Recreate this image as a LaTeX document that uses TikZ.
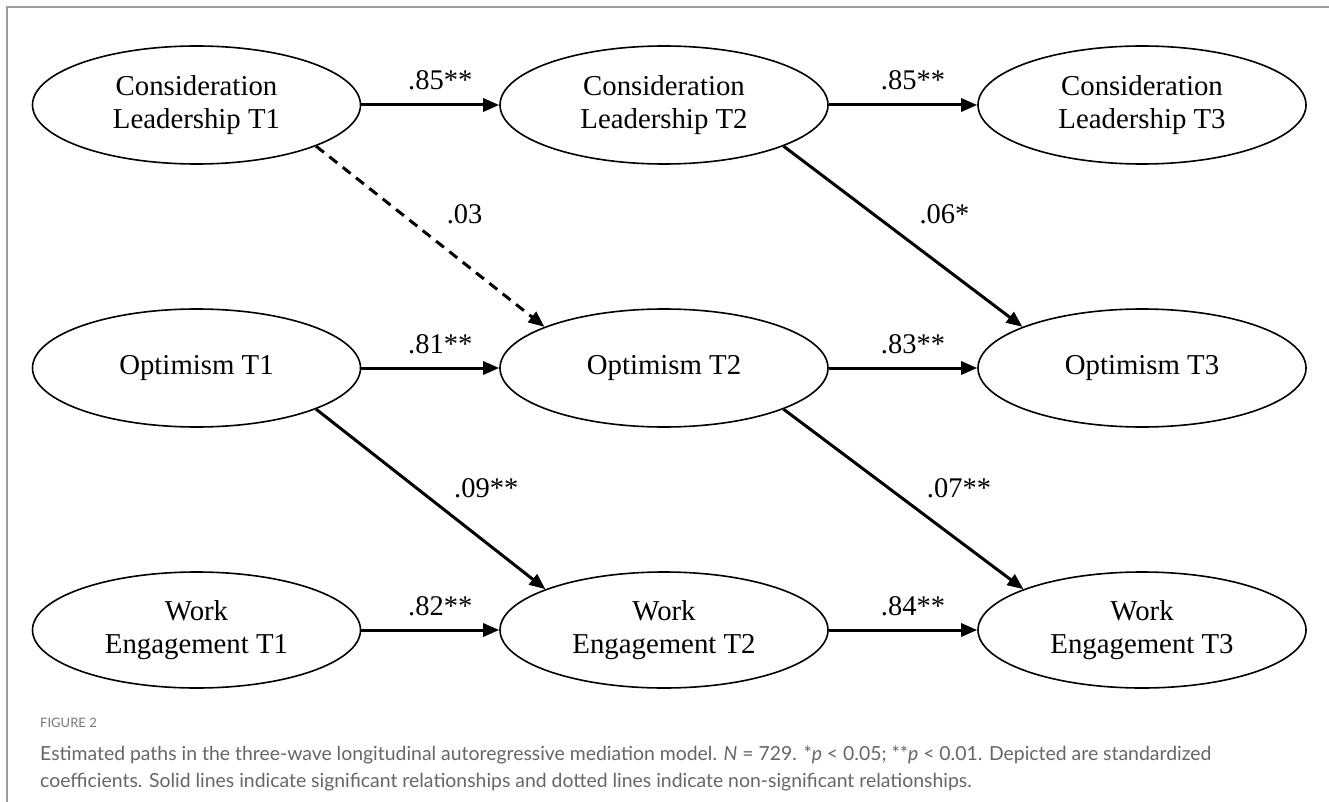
\documentclass[tikz,border=0pt]{standalone}
\usepackage{fontspec}
\setmainfont{Liberation Serif}
\newfontfamily\capfont{Lato}
\usetikzlibrary{arrows.meta,shapes.geometric}
\definecolor{framegray}{HTML}{9A9A9A}
\definecolor{capgray}{HTML}{666666}
\definecolor{figgray}{HTML}{777777}
\begin{document}
\begin{tikzpicture}[x=1pt,y=-1pt,
  latent/.style={draw, ellipse, line width=1.6pt, minimum width=328pt, minimum height=118pt,
    inner sep=0pt, align=center, font=\fontsize{28.8}{33}\selectfont},
  pathline/.style={line width=3pt, -{Triangle[length=16pt,width=13pt]}},
  coef/.style={font=\fontsize{28.5}{33}\selectfont, inner sep=0pt},
  hcoef/.style={coef, midway, anchor=base, yshift=15pt, xshift=10pt},
  ucoef/.style={coef, pos=0.5, anchor=south west, xshift=15pt, yshift=11pt},
  lcoef/.style={coef, pos=0.5, anchor=south west, xshift=22pt, yshift=0pt}
]
\useasboundingbox (0,0) rectangle (1329,802);
\fill[white] (0,0) rectangle (1329,802);
\draw[framegray, line width=1.5pt] (7,802) -- (7,7) -- (1329,7);

\node[latent] (cl1) at (196.5,105) {Consideration\\Leadership T1};
\node[latent] (cl2) at (664,105) {Consideration\\Leadership T2};
\node[latent] (cl3) at (1142,105) {Consideration\\Leadership T3};
\node[latent] (op1) at (196.5,368) {Optimism T1};
\node[latent] (op2) at (664,368) {Optimism T2};
\node[latent] (op3) at (1142,368) {Optimism T3};
\node[latent, minimum height=116pt] (we1) at (196.5,630) {Work\\Engagement T1};
\node[latent, minimum height=116pt] (we2) at (664,630) {Work\\Engagement T2};
\node[latent, minimum height=116pt] (we3) at (1142,630) {Work\\Engagement T3};

\draw[pathline] (cl1) -- node[hcoef] {.85**} (cl2);
\draw[pathline] (cl2) -- node[hcoef] {.85**} (cl3);
\draw[pathline] (op1) -- node[hcoef] {.81**} (op2);
\draw[pathline] (op2) -- node[hcoef] {.83**} (op3);
\draw[pathline] (we1) -- node[hcoef] {.82**} (we2);
\draw[pathline] (we2) -- node[hcoef] {.84**} (we3);

\draw[pathline, dash pattern=on 10pt off 7pt] (cl1.-19) -- node[ucoef] {.03} (op2.161);
\draw[pathline] (cl2.-19) -- node[ucoef] {.06*} (op3.161);
\draw[pathline] (op1.-19) -- node[lcoef] {.09**} (we2.161);
\draw[pathline] (op2.-19) -- node[lcoef] {.07**} (we3.161);

\node[anchor=west, inner sep=0pt, text=figgray, font=\capfont\fontsize{13}{14}\selectfont] (fig) at (40,723) {FIGURE 2};
\node[anchor=north west, inner sep=0pt, align=left, text=capgray, font=\capfont\fontsize{19.4}{27}\selectfont] (cap) at (40,746)
  {Estimated paths in the three-wave longitudinal autoregressive mediation model. \textit{N} = 729. *\textit{p} < 0.05; **\textit{p} < 0.01. Depicted are standardized\\
   coefficients. Solid lines indicate significant relationships and dotted lines indicate non-significant relationships.};
\end{tikzpicture}
\end{document}
